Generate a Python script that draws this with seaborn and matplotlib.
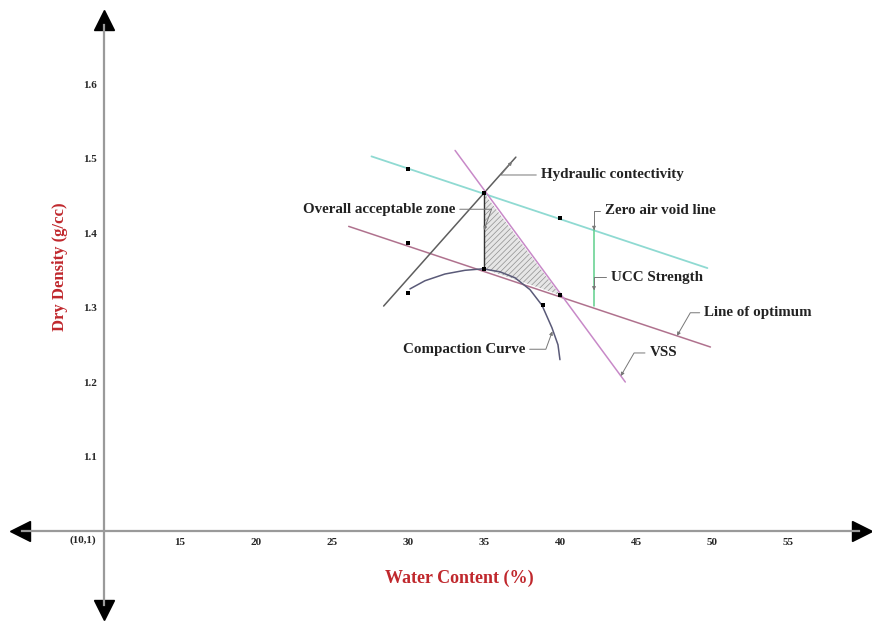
import matplotlib
matplotlib.use("Agg")
import matplotlib.pyplot as plt
import seaborn as sns

# lines (water content %, dry density g/cc)
zav_x = [27.6, 49.7]
zav_y = [1.503, 1.353]
optimum_x = [26.1, 49.9]
optimum_y = [1.409, 1.247]
hydraulic_x = [28.4, 37.1]
hydraulic_y = [1.302, 1.502]
vss_x = [33.1, 44.3]
vss_y = [1.511, 1.200]
ucc_x = [42.24, 42.24]
ucc_y = [1.406, 1.302]
curve_x = [30.13, 31.12, 32.43, 33.75, 34.93, 36.05, 37.04, 38.03, 38.82, 39.47, 39.87, 40.0]
curve_y = [1.325, 1.336, 1.345, 1.350, 1.352, 1.348, 1.340, 1.324, 1.303, 1.273, 1.250, 1.230]
zone_x = [35.0, 35.0, 40.0]
zone_y = [1.454, 1.352, 1.317]
pts_x = [30.0, 40.0, 30.0, 35.0, 35.0, 40.0, 30.0, 38.9]
pts_y = [1.486, 1.420, 1.387, 1.454, 1.352, 1.317, 1.319, 1.303]
xticks = [15, 20, 25, 30, 35, 40, 45, 50, 55]
yticks = [1.1, 1.2, 1.3, 1.4, 1.5, 1.6]

sns.set_style("white")
plt.rcParams['font.family'] = ['Liberation Serif', 'DejaVu Serif']
plt.rcParams['hatch.linewidth'] = 0.5

fig = plt.figure(figsize=(8.72, 6.27), dpi=100)
ax = fig.add_axes([0, 0, 1, 1])
ax.set_xlim(3.16, 60.53)
ax.set_ylim(0.871, 1.713)

# axes through (10, 1) with arrow heads
for s in ['top', 'right']:
    ax.spines[s].set_visible(False)
ax.spines['bottom'].set_position(('data', 1.0))
ax.spines['left'].set_position(('data', 10))
ax.spines['bottom'].set_bounds(4.6, 59.7)
ax.spines['left'].set_bounds(0.90, 1.68)
for s in ['bottom', 'left']:
    ax.spines[s].set_color('#9a9a9a')
    ax.spines[s].set_linewidth(1.6)
ax.plot(4.45, 1.0, marker='<', ms=15, color='black', clip_on=False)
ax.plot(59.85, 1.0, marker='>', ms=15, color='black', clip_on=False)
ax.plot(10, 1.686, marker='^', ms=15, color='black', clip_on=False)
ax.plot(10, 0.894, marker='v', ms=15, color='black', clip_on=False)

ax.set_xticks(xticks)
ax.set_xticklabels([str(t) for t in xticks])
ax.set_yticks(yticks)
ax.set_yticklabels([f"{t:.1f}" for t in yticks])
ax.tick_params(length=0, pad=5, labelsize=8)
for lab in ax.get_xticklabels() + ax.get_yticklabels():
    lab.set_fontweight('bold')
ax.text(9.5, 0.987, "(10,1)", ha='right', va='center', fontsize=8, fontweight='bold')

# hatched acceptable zone
ax.fill(zone_x, zone_y, facecolor='#e6e6e6', edgecolor='#8f8f8f', hatch='//////', lw=0)
sns.lineplot(x=zone_x[:2], y=zone_y[:2], color='#333333', lw=1, ax=ax, estimator=None, sort=False)

sns.lineplot(x=zav_x, y=zav_y, color='#8fdad2', lw=1.3, ax=ax, estimator=None, sort=False)
sns.lineplot(x=optimum_x, y=optimum_y, color='#b0728e', lw=1.1, ax=ax, estimator=None, sort=False)
sns.lineplot(x=hydraulic_x, y=hydraulic_y, color='#5e5e5e', lw=1.1, ax=ax, estimator=None, sort=False)
sns.lineplot(x=vss_x, y=vss_y, color='#c889c8', lw=1.1, ax=ax, estimator=None, sort=False)
sns.lineplot(x=ucc_x, y=ucc_y, color='#5fcf8c', lw=1.1, ax=ax, estimator=None, sort=False)
sns.lineplot(x=curve_x, y=curve_y, color='#5a5a78', lw=1.1, ax=ax, estimator=None, sort=False)
sns.scatterplot(x=pts_x, y=pts_y, marker='s', s=9, color='black', linewidth=0, ax=ax, zorder=5)

# annotations
arrow = dict(arrowstyle='-|>', color='#777777', lw=0.7, mutation_scale=5,
             shrinkA=1, shrinkB=0)
notes = [
    ("Hydraulic contectivity", (36.85, 1.496), (38.75, 1.478), 'left', 50),
    ("Overall acceptable zone", (35.0, 1.404), (33.1, 1.432), 'right', 70),
    ("Zero air void line", (42.24, 1.404), (42.95, 1.430), 'left', 90),
    ("UCC Strength", (42.24, 1.323), (43.35, 1.341), 'left', 90),
    ("Line of optimum", (47.7, 1.262), (49.5, 1.293), 'left', 60),
    ("VSS", (44.0, 1.208), (45.9, 1.239), 'left', 60),
    ("Compaction Curve", (39.5, 1.268), (37.7, 1.244), 'right', 70),
]
for txt, xy, xyt, ha, angb in notes:
    a = dict(arrow)
    anga = 180 if ha == 'left' else 0
    a['connectionstyle'] = f"angle,angleA={anga},angleB={angb},rad=0"
    ax.annotate(txt, xy=xy, xytext=xyt, ha=ha, va='center', fontsize=10.8,
                fontweight='bold', color='#222222', arrowprops=a)

ax.text(33.4, 0.936, "Water Content (%)", ha='center', va='center', fontsize=13,
        fontweight='bold', color='#c0282d')
ax.text(7.1, 1.355, "Dry Density (g/cc)", ha='center', va='center', rotation=90,
        fontsize=12, fontweight='bold', color='#c0282d')

fig.savefig("out.png", dpi=100)
